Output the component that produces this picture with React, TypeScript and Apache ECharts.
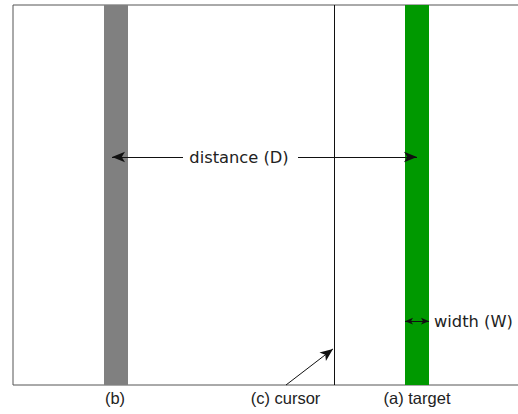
import React, { useEffect, useRef } from "react";
import * as echarts from "echarts";

// x in plot units (0 = left frame), y in 0..100 (bottom..top of frame)
const barNames = ["(b)", "(a) target"];
const barStarts = [91, 392];
const barEnds = [115, 416];
const barColors = ["#808080", "#009900"];

const cursorX = 321;

const distanceY = 60;
const distanceLeftTip = 99;
const distanceLeftEnd = 170;
const distanceRightStart = 285;
const distanceRightTip = 404;
const distanceLabelX = 226;
const distanceLabel = "distance (D)";

const widthY = 16.8;
const widthLabel = "width (W)";

const cursorArrowFrom = [273, 0];
const cursorArrowTo = [320, 9.5];

const bottomLabels = ["(b)", "(c) cursor", "(a) target"];
const bottomLabelPos = [102, 272.5, 404];

export default function App() {
  const ref = useRef<HTMLDivElement>(null);
  useEffect(() => {
    if (!ref.current) return;
    const chart = echarts.init(ref.current, undefined, { renderer: "svg" });
    const barData = barNames.map((n, i) => [barStarts[i], barEnds[i], i]);
    const lineStyle = { color: "#111", width: 1, type: "solid" as const };
    const labelFont = { fontFamily: "DejaVu Sans", fontSize: 16.3, color: "#222" };
    chart.setOption({
      animation: false,
      grid: {
        left: 13,
        right: -6,
        top: 5,
        bottom: 29,
        outerBoundsMode: "none",
        containLabel: false,
        show: true,
        borderColor: "#555",
        borderWidth: 1,
        backgroundColor: "#fff",
      },
      xAxis: {
        type: "value",
        min: 0,
        max: 511,
        axisLine: { show: false },
        axisTick: { show: false },
        splitLine: { show: false },
        axisLabel: {
          customValues: bottomLabelPos,
          formatter: (v: number) => {
            const i = bottomLabelPos.indexOf(v);
            return i >= 0 ? bottomLabels[i] : "";
          },
          fontFamily: "Liberation Sans",
          fontSize: 16.5,
          color: "#222",
          margin: 4,
        },
      },
      yAxis: {
        type: "value",
        min: 0,
        max: 100,
        show: false,
      },
      series: [
        {
          type: "custom",
          clip: false,
          silent: true,
          data: barData,
          renderItem: (params: any, api: any) => {
            const x0 = api.value(0);
            const x1 = api.value(1);
            const idx = api.value(2);
            const p0 = api.coord([x0, 100]);
            const p1 = api.coord([x1, 0]);
            return {
              type: "rect",
              shape: { x: p0[0], y: p0[1], width: p1[0] - p0[0], height: p1[1] - p0[1] },
              style: { fill: barColors[idx] },
            };
          },
          markLine: {
            silent: true,
            animation: false,
            symbol: ["none", "none"],
            lineStyle,
            label: { show: false },
            data: [
              [
                { coord: [cursorX, 0], symbol: "none" },
                { coord: [cursorX, 100], symbol: "none" },
              ],
              [
                { coord: [distanceLeftEnd, distanceY], symbol: "none" },
                { coord: [distanceLeftTip, distanceY], symbol: "arrow", symbolSize: [8, 13] },
              ],
              [
                { coord: [distanceRightStart, distanceY], symbol: "none" },
                { coord: [distanceRightTip, distanceY], symbol: "arrow", symbolSize: [8, 13] },
              ],
              [
                { coord: [barStarts[1], widthY], symbol: "arrow", symbolSize: [5, 8] },
                {
                  coord: [barEnds[1], widthY],
                  symbol: "arrow",
                  symbolSize: [5, 8],
                  label: {
                    show: true,
                    position: "end",
                    formatter: widthLabel,
                    distance: 5,
                    ...labelFont,
                  },
                },
              ],
              [
                { coord: cursorArrowFrom, symbol: "none" },
                { coord: cursorArrowTo, symbol: "arrow", symbolSize: [8, 13] },
              ],
            ],
          },
          markPoint: {
            silent: true,
            animation: false,
            symbol: "circle",
            symbolSize: 0,
            data: [
              {
                coord: [distanceLabelX, distanceY],
                label: {
                  show: true,
                  position: "inside",
                  formatter: distanceLabel,
                  ...labelFont,
                },
              },
            ],
          },
        },
      ],
    });
    return () => chart.dispose();
  }, []);
  return <div ref={ref} style={{ width: 518, height: 414, position: "absolute", left: 0, top: 0 }} />;
}
